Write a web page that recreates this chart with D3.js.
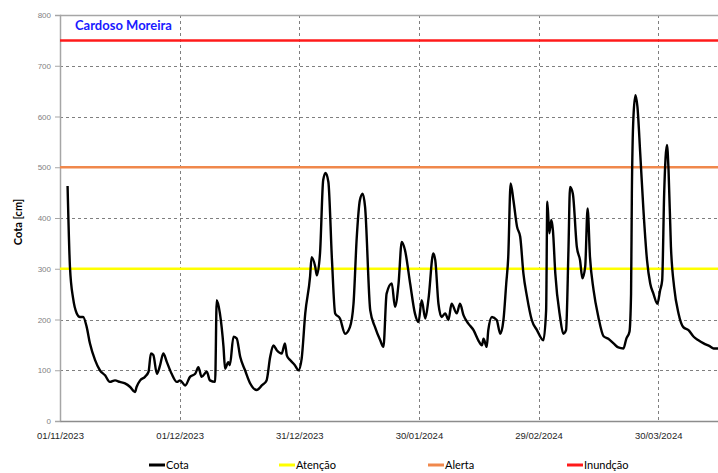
<!DOCTYPE html>
<html>
<head>
<meta charset="utf-8">
<script src="https://cdn.jsdelivr.net/npm/d3@7"></script>
<style>
  html, body { margin: 0; padding: 0; background: #fff; }
  svg { display: block; font-family: Lato, "Open Sans", "Liberation Sans", sans-serif; }
</style>
</head>
<body>
<svg id="chart" width="718" height="473"></svg>
<script>
// Station level series: days elapsed since 01/11/2023 and water level (cm)
const startDate = "2023-11-01";
const endDate = "2024-04-14";
const dayOffset = [
  1.9, 2.5, 3.3, 4.2, 5.0, 5.8, 6.7, 7.5, 8.8, 10.0, 11.3, 12.5, 13.8, 15.0, 16.3, 17.6,
  18.8, 19.2, 20.1, 21.3, 22.2, 22.8, 23.4, 24.3, 25.1, 25.9, 26.8, 28.0, 29.3, 30.1,
  31.4, 32.6, 33.9, 34.7, 35.5, 36.8, 37.6, 38.9, 39.3, 40.1, 41.0, 41.4, 42.2, 42.6,
  43.5, 44.3, 45.2, 46.4, 47.7, 49.3, 50.6, 51.8, 52.7, 53.5, 54.4, 55.6, 56.4, 56.9,
  57.7, 58.9, 59.8, 60.6, 61.5, 62.7, 63.1, 64.0, 64.4, 65.2, 66.0, 66.6, 67.3, 68.2,
  69.0, 70.2, 71.5, 72.7, 73.6, 74.4, 75.2, 75.9, 76.5, 77.8, 79.0, 80.3, 81.1, 81.9,
  83.2, 84.0, 84.9, 85.7, 86.5, 87.8, 89.0, 89.9, 90.7, 91.6, 92.4, 93.6, 94.1, 94.9,
  95.7, 96.6, 97.4, 98.2, 99.5, 100.3, 101.2, 102.4, 103.7, 104.9, 105.8, 106.2, 107.0,
  107.4, 108.3, 109.5, 110.4, 111.2, 111.9, 112.4, 113.0, 113.7, 114.6, 115.4, 116.2,
  117.1, 118.3, 119.6, 121.2, 121.9, 122.2, 122.7, 123.2, 123.6, 124.2, 125.4, 126.2,
  126.9, 127.5, 127.9, 128.6, 129.6, 130.4, 131.0, 131.7, 132.3, 132.9, 133.8, 135.0,
  136.3, 137.5, 138.8, 140.0, 141.3, 142.0, 142.8, 143.2, 143.4, 143.8, 144.3, 144.8,
  145.5, 146.3, 147.2, 148.0, 148.8, 149.8, 150.5, 151.0, 151.5, 152.2, 152.6, 153.2,
  154.0, 155.1, 156.3, 157.6, 158.9, 160.1, 161.4, 163.0, 163.9, 165.0
];
const cota = [
  463, 303, 241, 212, 205, 205, 185, 153, 120, 100, 90, 77, 80, 77, 74, 67,
  57, 67, 80, 87, 97, 133, 130, 93, 110, 133, 116, 93, 77, 80,
  70, 87, 93, 106, 87, 97, 80, 77, 238, 212, 146, 103, 116, 110,
  166, 163, 126, 100, 74, 61, 70, 80, 126, 149, 139, 133, 153, 129,
  120, 110, 100, 123, 212, 284, 323, 304, 287, 330, 475, 489, 471, 317,
  212, 202, 172, 185, 231, 360, 435, 448, 422, 218, 185, 159, 146, 251,
  271, 225, 271, 353, 337, 271, 212, 195, 238, 202, 240, 330, 317, 231,
  205, 212, 199, 231, 212, 231, 208, 192, 179, 159, 149, 162, 146,
  179, 205, 199, 172, 199, 271, 323, 468, 435, 383, 363, 291,
  245, 199, 179, 159, 218, 432, 370, 396, 376, 291, 205, 172,
  179, 337, 461, 448, 343, 317, 281, 304, 419, 323, 258, 205,
  167, 162, 153, 145, 143, 162, 176, 251, 448, 600, 642, 619,
  527, 416, 317, 271, 251, 231, 258, 277, 448, 544, 494, 343,
  264, 212, 185, 179, 166, 159, 153, 147, 143, 143
];

// Warning levels (cm)
const levelNames = ["Atenção", "Alerta", "Inundção"];
const levelValues = [300, 500, 750];
const levelColors = ["#ffff00", "#f0884c", "#ff1a1a"];

// Axis ticks
const yTicks = [0, 100, 200, 300, 400, 500, 600, 700, 800];
const xTickDates = ["2023-11-01", "2023-12-01", "2023-12-31", "2024-01-30", "2024-02-29", "2024-03-30"];

const parse = d3.utcParse("%Y-%m-%d");
const t0 = parse(startDate);
const DAY = 864e5;
const series = dayOffset.map((d, i) => ({ date: new Date(t0.getTime() + d * DAY), value: cota[i] }));

const svg = d3.select("#chart");
const plot = { left: 60, top: 15, right: 718, bottom: 421 };

const x = d3.scaleUtc().domain([t0, parse(endDate)]).range([plot.left, plot.right]);
const y = d3.scaleLinear().domain([0, 800]).range([plot.bottom, plot.top]);

// dashed grid
const grid = svg.append("g").attr("stroke", "#7f7f7f").attr("stroke-width", 1).attr("stroke-dasharray", "3,3");
grid.selectAll("line.h").data(yTicks.filter(v => v > 0 && v < 800)).join("line")
  .attr("x1", plot.left).attr("x2", plot.right)
  .attr("y1", d => Math.round(y(d)) + 0.5).attr("y2", d => Math.round(y(d)) + 0.5);
grid.selectAll("line.v").data(xTickDates.slice(1).map(parse)).join("line")
  .attr("y1", plot.top).attr("y2", plot.bottom)
  .attr("x1", d => Math.round(x(d)) + 0.5).attr("x2", d => Math.round(x(d)) + 0.5);

// frame
svg.append("line").attr("x1", plot.left).attr("x2", plot.right)
  .attr("y1", plot.top + 0.5).attr("y2", plot.top + 0.5).attr("stroke", "#a6a6a6").attr("stroke-width", 1.5);

// y axis
const yAxis = svg.append("g").attr("transform", `translate(${plot.left},0)`)
  .call(d3.axisLeft(y).tickValues(yTicks).tickSize(5).tickPadding(4));
yAxis.select(".domain").attr("stroke", "#a6a6a6").attr("stroke-width", 1.5);
yAxis.selectAll(".tick line").attr("stroke", "#a6a6a6");
yAxis.selectAll("text").attr("fill", "#7f7f7f").attr("font-size", "8px");

// x axis
const xAxis = svg.append("g").attr("transform", `translate(0,${plot.bottom})`)
  .call(d3.axisBottom(x).tickValues(xTickDates.map(parse)).tickFormat(d3.utcFormat("%d/%m/%Y")).tickSize(0).tickPadding(11));
xAxis.select(".domain").attr("stroke", "#8c8c8c").attr("stroke-width", 1.5);
xAxis.selectAll("text").attr("fill", "#262626").attr("font-size", "9.5px");

// warning level lines
levelValues.forEach((v, i) => {
  svg.append("line").attr("x1", plot.left).attr("x2", plot.right)
    .attr("y1", y(v)).attr("y2", y(v))
    .attr("stroke", levelColors[i]).attr("stroke-width", 2.5);
});

// water level line
svg.append("path").datum(series)
  .attr("fill", "none").attr("stroke", "#000").attr("stroke-width", 2.4)
  .attr("stroke-linejoin", "round")
  .attr("d", d3.line().curve(d3.curveMonotoneX).x(d => x(d.date)).y(d => y(d.value)));

// station name
svg.append("text").attr("x", 75).attr("y", 30)
  .attr("font-size", "13px").attr("font-weight", "bold").attr("fill", "#1a1aff")
  .text("Cardoso Moreira");

// y axis title
svg.append("text").attr("transform", `translate(22,${(plot.top + plot.bottom) / 2 + 4}) rotate(-90)`)
  .attr("text-anchor", "middle").attr("font-size", "11px").attr("font-weight", "bold").attr("fill", "#000")
  .text("Cota [cm]");

// legend
const legendItems = [{ name: "Cota", color: "#000", x: 149 }]
  .concat(levelNames.map((n, i) => ({ name: n, color: levelColors[i], x: [279, 428, 567][i] })));
const lg = svg.append("g").attr("transform", "translate(0,465)");
legendItems.forEach(it => {
  lg.append("line").attr("x1", it.x).attr("x2", it.x + 16).attr("y1", 0).attr("y2", 0)
    .attr("stroke", it.color).attr("stroke-width", 3);
  lg.append("text").attr("x", it.x + 17).attr("y", 4).attr("font-size", "11px").attr("fill", "#000").text(it.name);
});
</script>
</body>
</html>
